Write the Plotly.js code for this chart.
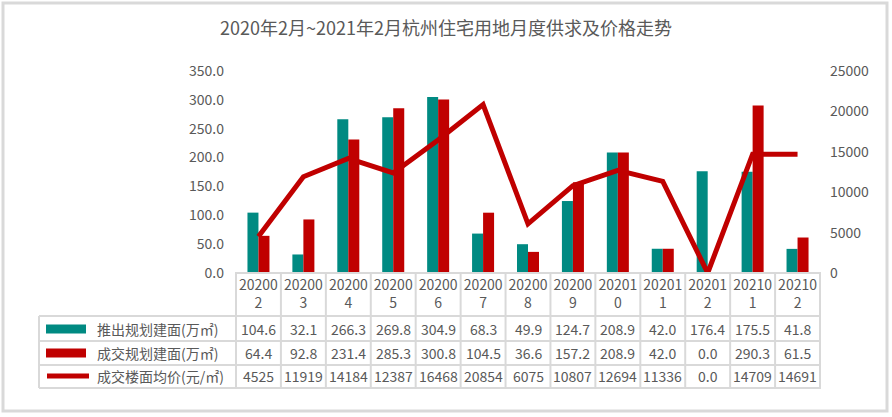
<!DOCTYPE html>
<html>
<head>
<meta charset="utf-8">
<script src="https://cdn.plot.ly/plotly-3.0.1.min.js"></script>
<style>
    body { margin: 0; background: #fff; }
    #graph { width: 892px; height: 417px; }
</style>
</head>
<body>
<div id="graph"></div>
<script>
const months = ['202002', '202003', '202004', '202005', '202006', '202007', '202008',
    '202009', '202010', '202011', '202012', '202101', '202102'];
const supplyArea = [104.6, 32.1, 266.3, 269.8, 304.9, 68.3, 49.9, 124.7, 208.9, 42.0, 176.4, 175.5, 41.8];
const dealArea = [64.4, 92.8, 231.4, 285.3, 300.8, 104.5, 36.6, 157.2, 208.9, 42.0, 0.0, 290.3, 61.5];
const avgPrice = [4525, 11919, 14184, 12387, 16468, 20854, 6075, 10807, 12694, 11336, 0, 14709, 14691];
const seriesNames = ['推出规划建面(万㎡)', '成交规划建面(万㎡)', '成交楼面均价(元/㎡)'];
const leftTicks = [0, 50, 100, 150, 200, 250, 300, 350];
const rightTicks = [0, 5000, 10000, 15000, 20000, 25000];

const TEAL = '#008A82';
const RED = '#C00000';
const GRID = '#D9D9D9';
const TEXT = '#595959';
const FONT = '"Noto Sans CJK SC", "Microsoft YaHei", sans-serif';

// plot area in pixels
const PL = 235, PR = 821, PT = 71, PB = 273;
function px(x) { return (x - PL) / (PR - PL); }
function py(y) { return (PB - y) / (PB - PT); }

function formatArea(v) { return v.toFixed(1); }
function formatPrice(v) { return v === 0 ? '0.0' : String(v); }

const supplyTrace = {
    x: months,
    y: supplyArea,
    type: 'bar',
    name: seriesNames[0],
    marker: {color: TEAL},
    hoverinfo: 'skip'
};

const dealTrace = {
    x: months,
    y: dealArea,
    type: 'bar',
    name: seriesNames[1],
    marker: {color: RED},
    hoverinfo: 'skip'
};

const priceTrace = {
    x: months,
    y: avgPrice,
    type: 'scatter',
    mode: 'lines',
    yaxis: 'y2',
    name: seriesNames[2],
    line: {color: RED, width: 5},
    hoverinfo: 'skip'
};

// data table under the chart
const rowLines = [316, 341, 365, 388];
const tableLeft = 39;
const rowCenters = [329, 353, 376];
const rowValues = [
    supplyArea.map(formatArea),
    dealArea.map(formatArea),
    avgPrice.map(formatPrice)
];

const shapes = [];
const annotations = [];

// outer frame
shapes.push({
    type: 'rect', xref: 'paper', yref: 'paper',
    x0: px(3), x1: px(887), y0: py(3), y1: py(411),
    line: {color: GRID, width: 3}
});

// column dividers
for (let i = 0; i <= months.length; i++) {
    shapes.push({
        type: 'line', xref: 'x', yref: 'paper',
        x0: i - 0.5, x1: i - 0.5, y0: py(PB), y1: py(rowLines[3]),
        line: {color: GRID, width: 2}
    });
}
// row lines (first one is the axis line)
[PB].concat(rowLines).forEach(function (y, k) {
    shapes.push({
        type: 'line', xref: 'paper', yref: 'paper',
        x0: px(k === 0 ? PL : tableLeft), x1: px(PR), y0: py(y), y1: py(y),
        line: {color: GRID, width: 2}
    });
});
shapes.push({
    type: 'line', xref: 'paper', yref: 'paper',
    x0: px(tableLeft), x1: px(tableLeft), y0: py(rowLines[0]), y1: py(rowLines[3]),
    line: {color: GRID, width: 2}
});

// legend keys
shapes.push({
    type: 'rect', xref: 'paper', yref: 'paper',
    x0: px(46), x1: px(86), y0: py(rowCenters[0] - 4.5), y1: py(rowCenters[0] + 4.5),
    fillcolor: TEAL, line: {width: 0}
});
shapes.push({
    type: 'rect', xref: 'paper', yref: 'paper',
    x0: px(46), x1: px(86), y0: py(rowCenters[1] - 4.5), y1: py(rowCenters[1] + 4.5),
    fillcolor: RED, line: {width: 0}
});
shapes.push({
    type: 'line', xref: 'paper', yref: 'paper',
    x0: px(47), x1: px(89), y0: py(rowCenters[2]), y1: py(rowCenters[2]),
    line: {color: RED, width: 5}
});

seriesNames.forEach(function (name, r) {
    annotations.push({
        xref: 'paper', yref: 'paper', x: px(95), y: py(rowCenters[r]),
        xanchor: 'left', yanchor: 'middle', showarrow: false,
        text: name, font: {family: FONT, size: 14, color: TEXT}
    });
    rowValues[r].forEach(function (txt, i) {
        annotations.push({
            xref: 'x', yref: 'paper', x: i, y: py(rowCenters[r]),
            xanchor: 'center', yanchor: 'middle', showarrow: false,
            text: txt, font: {family: FONT, size: 14, color: TEXT}
        });
    });
});

const layout = {
    width: 892,
    height: 417,
    paper_bgcolor: '#fff',
    plot_bgcolor: '#fff',
    font: {family: FONT, size: 14, color: TEXT},
    title: {
        text: '2020年2月~2021年2月杭州住宅用地月度供求及价格走势',
        font: {family: FONT, size: 18, color: TEXT},
        x: 0.5,
        xanchor: 'center',
        y: 1 - 29 / 417,
        yanchor: 'middle'
    },
    margin: {l: PL, r: 892 - PR, t: PT, b: 417 - PB},
    barmode: 'group',
    bargap: 0.51,
    bargroupgap: 0,
    showlegend: false,
    xaxis: {
        type: 'category',
        tickvals: months,
        ticktext: months.map(function (m) { return m.slice(0, 5) + '<br>' + m.slice(5); }),
        tickfont: {family: FONT, size: 14, color: TEXT},
        showgrid: false,
        zeroline: false,
        showline: false,
        ticks: '',
        ticklabelstandoff: 2,
        fixedrange: true
    },
    yaxis: {
        range: [0, 350],
        tickvals: leftTicks,
        ticktext: leftTicks.map(function (v) { return v.toFixed(1); }),
        tickfont: {family: FONT, size: 14, color: TEXT},
        showgrid: false,
        zeroline: false,
        ticks: '',
        ticklabelstandoff: 10,
        fixedrange: true
    },
    yaxis2: {
        overlaying: 'y',
        side: 'right',
        range: [0, 25000],
        tickvals: rightTicks,
        ticktext: rightTicks.map(String),
        tickfont: {family: FONT, size: 14, color: TEXT},
        showgrid: false,
        zeroline: false,
        ticks: '',
        ticklabelstandoff: 8,
        fixedrange: true
    },
    shapes: shapes,
    annotations: annotations
};

const config = {
    displayModeBar: false,
    staticPlot: true
};

Plotly.newPlot('graph', [supplyTrace, dealTrace, priceTrace], layout, config);
</script>
</body>
</html>
